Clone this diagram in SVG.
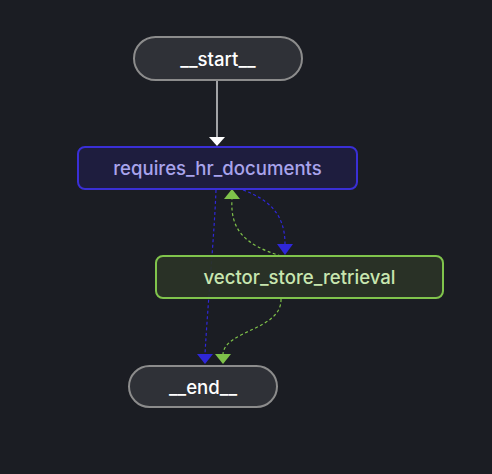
<svg xmlns="http://www.w3.org/2000/svg" width="492" height="474" viewBox="0 0 492 474">
<style>
.lbl{font-family:Inter,"Liberation Sans",sans-serif;font-size:18.6px;font-weight:500;text-anchor:middle;dominant-baseline:central}
.term rect{fill:#2f3137;stroke:#8c8c8c;stroke-width:2}
.term text{fill:#ffffff}
.dash{fill:none;stroke-width:1.2;stroke-dasharray:3 2.5}
.blue{stroke:#2f27d8}
.green{stroke:#7fc24a}
</style>
<rect width="492" height="474" fill="#1b1d23"/>
<g id="connectors">
<line x1="217" y1="81" x2="217" y2="137" stroke="#ffffff" stroke-width="1.2"/>
<path d="M209,137 L225,137 L217,146 Z" fill="#ffffff"/>
<path class="dash blue" d="M216,190 C214,240 208,300 205,354"/>
<path d="M197,354 L213,354 L205,364 Z" fill="#2f27d8"/>
<path class="dash blue" d="M243,190 C270,200 285,215 285,244"/>
<path d="M277,244 L293,244 L285,255 Z" fill="#2f27d8"/>
<path class="dash green" d="M281,256 C245,245 230,230 232,199"/>
<path d="M224,199 L240,199 L232,189 Z" fill="#7fc24a"/>
<path class="dash green" d="M281,299 C282,330 225,330 223,354"/>
<path d="M215,354 L231,354 L223,364 Z" fill="#7fc24a"/>
</g>
<g id="start" class="term">
<rect x="134" y="37" width="168" height="43" rx="21.5"/>
<text class="lbl" x="218" y="59">__start__</text>
</g>
<g id="requires_hr_documents">
<rect x="78" y="147" width="279" height="42" rx="7" fill="#1e1d3e" stroke="#3a2fd6" stroke-width="2"/>
<text class="lbl" x="217.5" y="168" fill="#a9a4ec">requires_hr_documents</text>
</g>
<g id="vector_store_retrieval">
<rect x="156" y="256" width="287" height="42" rx="7" fill="#2a3327" fill-opacity="0.93" stroke="#80c44c" stroke-width="2"/>
<text class="lbl" x="299.5" y="277" fill="#c8e6b0">vector_store_retrieval</text>
</g>
<g id="end" class="term">
<rect x="129" y="366" width="148" height="41" rx="20.5"/>
<text class="lbl" x="203" y="386.5">__end__</text>
</g>
</svg>
